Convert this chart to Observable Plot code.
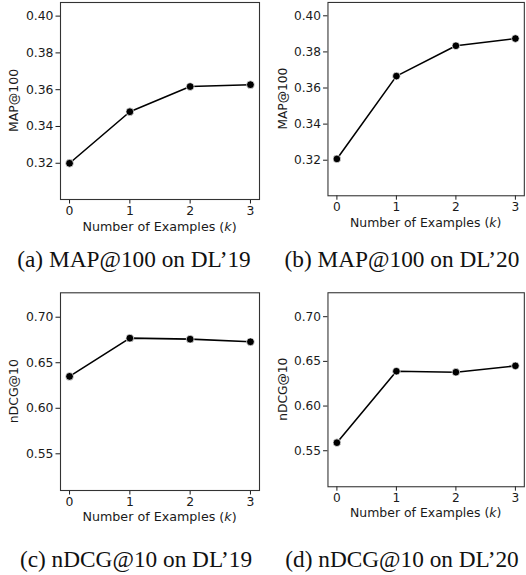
<!DOCTYPE html>
<html>
<head>
<meta charset="utf-8">
<script src="https://cdn.jsdelivr.net/npm/d3@7"></script>
<script src="https://cdn.jsdelivr.net/npm/@observablehq/plot@0.6"></script>
<style>
  html, body { margin: 0; padding: 0; background: #fff; }
  #root { position: relative; width: 526px; height: 575px; overflow: hidden; background: #fff; }
  .panel { position: absolute; }
  .cap { position: absolute; width: 300px; text-align: center; font-family: "Liberation Serif", "Times New Roman", serif; font-size: 23.3px; line-height: 22px; color: #111; white-space: nowrap; }
</style>
</head>
<body>
<div id="root"></div>
<script>
// ---- data ----
const ks = [0, 1, 2, 3];
const map19 = [0.320, 0.348, 0.3617, 0.3627];
const map20 = [0.3207, 0.3666, 0.3834, 0.3874];
const ndcg19 = [0.635, 0.677, 0.6759, 0.673];
const ndcg20 = [0.559, 0.639, 0.6379, 0.645];
const mapTicks = [0.32, 0.34, 0.36, 0.38, 0.40];
const ndcgTicks = [0.55, 0.60, 0.65, 0.70];
const mapDomain = [0.3003, 0.4074];
const ndcgDomain = [0.5097, 0.7268];
const xDomain = [-0.15, 3.15];
const xLabel = "Number of Examples (";
const xLabelVar = "k";
const captions = ["(a) MAP@100 on DL\u201919", "(b) MAP@100 on DL\u201920", "(c) nDCG@10 on DL\u201919", "(d) nDCG@10 on DL\u201920"];

const panels = [
  {values: map19, ylabel: "MAP@100", domain: mapDomain, ticks: mapTicks, left: 0, top: 0, width: 263, ml: 60, mr: 4, mt: 2, mb: 46, cx: 134, cy: 247.5},
  {values: map20, ylabel: "MAP@100", domain: mapDomain, ticks: mapTicks, left: 263, top: 0, width: 268, ml: 65.7, mr: 2.2, mt: 2, mb: 46, cx: 402, cy: 247.5},
  {values: ndcg19, ylabel: "nDCG@10", domain: ndcgDomain, ticks: ndcgTicks, left: 0, top: 290, width: 263, ml: 60, mr: 4, mt: 2.3, mb: 45, cx: 136, cy: 548},
  {values: ndcg20, ylabel: "nDCG@10", domain: ndcgDomain, ticks: ndcgTicks, left: 263, top: 290, width: 268, ml: 65.7, mr: 2.2, mt: 2.3, mb: 45, cx: 402, cy: 548}
];

const root = document.getElementById("root");

panels.forEach((p, i) => {
  const data = ks.map((k, j) => ({k, v: p.values[j]}));
  const h = 245;
  const chart = Plot.plot({
    width: p.width,
    height: h,
    marginLeft: p.ml,
    marginRight: p.mr,
    marginTop: p.mt,
    marginBottom: p.mb,
    style: {fontFamily: "DejaVu Sans", fontSize: "12.4px", color: "#1a1a1a", background: "transparent", overflow: "visible"},
    x: {domain: xDomain},
    y: {domain: p.domain},
    marks: [
      Plot.axisX({ticks: ks, tickSize: 4.5, tickPadding: 2.5, tickFormat: d => String(d), label: null, fontSize: 12.4}),
      Plot.axisY({ticks: p.ticks, tickSize: 4.5, tickPadding: 2.5, tickFormat: d3.format(".2f"), label: null, fontSize: 12.4}),
      Plot.line(data, {x: "k", y: "v", stroke: "black", strokeWidth: 1.6}),
      Plot.dot(data, {x: "k", y: "v", r: 3.9, fill: "black", stroke: "white", strokeWidth: 0.7}),
      Plot.frame({stroke: "#333", strokeWidth: 1.1})
    ]
  });
  const div = document.createElement("div");
  div.className = "panel";
  div.style.left = p.left + "px";
  div.style.top = p.top + "px";
  div.appendChild(chart);
  root.appendChild(div);

  const svg = d3.select(chart);
  const frameCx = (p.ml + (p.width - p.mr)) / 2;
  const frameCy = (p.mt + (h - p.mb)) / 2;
  const xl = svg.append("text")
    .attr("x", frameCx)
    .attr("y", 231)
    .attr("text-anchor", "middle")
    .attr("font-family", "DejaVu Sans")
    .attr("font-size", "12.7px")
    .attr("fill", "#1a1a1a");
  xl.append("tspan").text(xLabel);
  xl.append("tspan").attr("font-style", "italic").text(xLabelVar);
  xl.append("tspan").text(")");
  svg.append("text")
    .attr("transform", `translate(${p.ml - 46},${frameCy}) rotate(-90)`)
    .attr("text-anchor", "middle")
    .attr("dy", "0.35em")
    .attr("font-family", "DejaVu Sans")
    .attr("font-size", "12.5px")
    .attr("fill", "#1a1a1a")
    .text(p.ylabel);

  const cap = document.createElement("div");
  cap.className = "cap";
  cap.style.left = (p.cx - 150) + "px";
  cap.style.top = p.cy + "px";
  cap.textContent = captions[i];
  root.appendChild(cap);
});
</script>
</body>
</html>
